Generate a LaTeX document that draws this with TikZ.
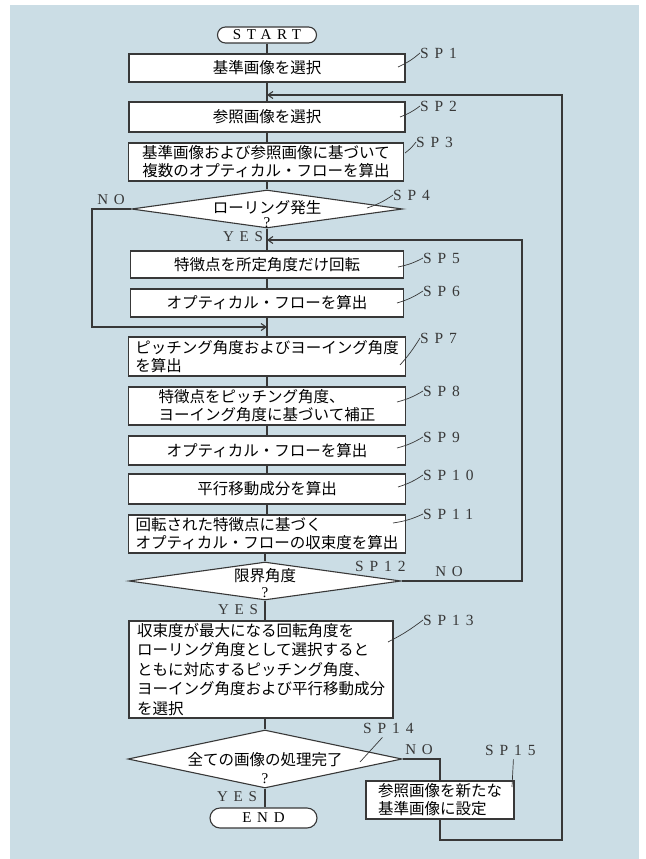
\documentclass[tikz,border=0pt]{standalone}
\usepackage{fontspec}
\usetikzlibrary{shapes.geometric,arrows.meta,calc}
\newfontfamily\jp{Noto Sans CJK JP}
\newfontfamily\lat[LetterSpace=38]{Liberation Serif}
\newfontfamily\qm{Liberation Serif}
\definecolor{bg}{HTML}{CBDDE5}
\definecolor{ink}{HTML}{383838}
\newcommand\dtext[4]{\makebox[0pt]{\smash{\raisebox{#2}{\makebox[0pt]{#1}}\raisebox{#4}{\makebox[0pt]{\qm\fontsize{15}{15}\selectfont #3}}}}}
\tikzset{
  box/.style={draw=ink, fill=white, line width=1.1pt, rectangle, inner sep=0pt,
    font=\jp\fontsize{15.5}{18}\selectfont, align=center},
  dia/.style={draw=ink, fill=white, line width=1.1pt, diamond, inner sep=0pt,
    font=\jp\fontsize{15.5}{18}\selectfont},
  term/.style={draw=ink, fill=white, line width=1.1pt, rectangle, rounded corners=8pt,
    inner sep=0pt, font=\lat\fontsize{15}{15}\selectfont},
  ln/.style={draw=ink, line width=1.1pt},
  arr/.style={-{Straight Barb[length=5pt,width=7pt]}},
  lab/.style={font=\lat\fontsize{15.5}{15.5}\selectfont, inner sep=0pt, text=ink, anchor=west},
  yn/.style={font=\lat\fontsize{15}{15}\selectfont, inner sep=0pt, text=ink},
  lead/.style={draw=ink, line width=0.7pt}
}
\begin{document}
\begin{tikzpicture}[x=1pt,y=1pt]
\useasboundingbox (0,0) rectangle (645,-859);
\fill[bg] (10,-5) rectangle (639,-859);

% nodes
\node[term, minimum width=99pt, minimum height=16pt] (start) at (267,-35) {START};
\node[box, minimum width=276pt, minimum height=28pt] (sp1) at (267,-68) {基準画像を選択};
\node[box, minimum width=276pt, minimum height=30pt] (sp2) at (267,-117) {参照画像を選択};
\node[box, minimum width=275pt, minimum height=38pt] (sp3) at (266,-162) {基準画像および参照画像に基づいて\\複数のオプティカル・フローを算出};
\node[dia, minimum width=271pt, minimum height=38pt] (sp4) at (267,-209) {\dtext{ローリング発生}{-4pt}{?}{-18pt}};
\node[box, minimum width=273pt, minimum height=27pt] (sp5) at (267,-264.5) {特徴点を所定角度だけ回転};
\node[box, minimum width=273pt, minimum height=28pt] (sp6) at (267,-303) {オプティカル・フローを算出};
\node[box, minimum width=277pt, minimum height=39pt, align=left] (sp7) at (267,-356.5) {ピッチング角度およびヨーイング角度\\を算出};
\node[box, minimum width=277pt, minimum height=38pt, align=left] (sp8) at (267,-406) {特徴点をピッチング角度、\\ヨーイング角度に基づいて補正};
\node[box, minimum width=277pt, minimum height=29pt] (sp9) at (267,-450.5) {オプティカル・フローを算出};
\node[box, minimum width=277pt, minimum height=30pt] (sp10) at (267,-489) {平行移動成分を算出};
\node[box, minimum width=277pt, minimum height=38pt, align=left] (sp11) at (267,-534) {回転された特徴点に基づく\\オプティカル・フローの収束度を算出};
\node[dia, minimum width=272pt, minimum height=38pt] (sp12) at (265,-581) {\dtext{限界角度}{0pt}{?}{-16pt}};
\node[box, minimum width=264pt, minimum height=97pt, align=left, font=\jp\fontsize{15.5}{19.5}\selectfont] (sp13) at (261,-669.5) {収束度が最大になる回転角度を\\ローリング角度として選択すると\\ともに対応するピッチング角度、\\ヨーイング角度および平行移動成分\\を選択};
\node[dia, minimum width=274pt, minimum height=58pt] (sp14) at (265,-759) {\dtext{全ての画像の処理完了}{-6pt}{?}{-24pt}};
\node[term, minimum width=107pt, minimum height=20pt, rounded corners=10pt] (end) at (263.5,-818) {END};
\node[box, minimum width=148pt, minimum height=38pt, align=left] (sp15) at (440,-800) {参照画像を新たな\\基準画像に設定};

% main flow
\draw[ln] (start.south) -- (start.south |- sp1.north);
\draw[ln] (sp1.south) -- (sp1.south |- sp2.north);
\draw[ln] (sp2.south) -- (sp2.south |- sp3.north);
\draw[ln] (sp3.south -| sp4.north) -- (sp4.north);
\draw[ln] (sp4.south) -- (sp4.south |- sp5.north);
\draw[ln] (sp5.south) -- (sp5.south |- sp6.north);
\draw[ln] (sp6.south) -- (sp6.south |- sp7.north);
\draw[ln] (sp7.south) -- (sp7.south |- sp8.north);
\draw[ln] (sp8.south) -- (sp8.south |- sp9.north);
\draw[ln] (sp9.south) -- (sp9.south |- sp10.north);
\draw[ln] (sp10.south) -- (sp10.south |- sp11.north);
\draw[ln] (sp11.south -| sp12.north) -- (sp12.north);
\draw[ln] (sp12.south) -- (sp12.south |- sp13.north);
\draw[ln] (sp14.north |- sp13.south) -- (sp14.north);
\draw[ln] (sp14.south) -- (sp14.south |- end.north);

% loops
\coordinate (r1) at (267,-95);
\coordinate (o1) at (562,-840);
\coordinate (o2) at (562,-95);
\draw[ln, arr] (sp15.south) |- (o1) -- (o2) -- (r1);
\draw[ln] (sp14.east) -| (sp15.north);

\coordinate (n1) at (92,-209);
\coordinate (r3) at (267,-327);
\draw[ln, arr] (sp4.west) -- (n1) |- (r3);

\coordinate (n2) at (522,-240);
\coordinate (r2) at (267,-240);
\draw[ln, arr] (sp12.east) -| (n2) -- (r2);

% yes/no labels
\node[yn] (no1) at (111,-200) {NO};
\node[yn] (yes1) at (243,-237) {YES};
\node[yn] (no2) at (449,-572) {NO};
\node[yn] (yes2) at (238,-610) {YES};
\node[yn] (no3) at (419,-750) {NO};
\node[yn] (yes3) at (237,-797) {YES};

% step labels
\node[lab] (s1) at (420,-53) {SP1};
\node[lab] (s2) at (420,-106) {SP2};
\node[lab] (s3) at (416,-142) {SP3};
\node[lab] (s4) at (393,-195) {SP4};
\node[lab] (s5) at (423,-258) {SP5};
\node[lab] (s6) at (423,-291) {SP6};
\node[lab] (s7) at (420,-338) {SP7};
\node[lab] (s8) at (423,-391) {SP8};
\node[lab] (s9) at (423,-437) {SP9};
\node[lab] (s10) at (423,-475) {SP10};
\node[lab] (s11) at (423,-514) {SP11};
\node[lab] (s12) at (355,-566) {SP12};
\node[lab] (s13) at (423,-620) {SP13};
\node[lab] (s14) at (363,-728) {SP14};
\node[lab] (s15) at (485,-750) {SP15};

% leaders
\coordinate (q1) at (398,-67);
\coordinate (q2) at (400,-117);
\coordinate (q3) at (405,-153);
\coordinate (q4) at (367,-208);
\coordinate (q5) at (398,-267);
\coordinate (q6) at (397,-303);
\coordinate (q7) at (400,-365);
\coordinate (q8) at (397,-402);
\coordinate (q9) at (397,-448);
\coordinate (q10) at (398,-487);
\coordinate (q11) at (393,-523);
\coordinate (q13) at (388,-642);
\coordinate (q14) at (360,-762);
\coordinate (q15) at (512,-787);
\draw[lead] (q1) to[bend right=8] (s1.west);
\draw[lead] (q2) to[bend right=8] (s2.west);
\draw[lead] (q3) to[bend right=8] (s3.west);
\draw[lead] (q4) to[bend right=8] (s4.west);
\draw[lead] (q5) to[bend right=8] (s5.west);
\draw[lead] (q6) to[bend right=8] (s6.west);
\draw[lead] (q7) to[bend right=5] (s7.west);
\draw[lead] (q8) to[bend right=8] (s8.west);
\draw[lead] (q9) to[bend right=8] (s9.west);
\draw[lead] (q10) to[bend right=8] (s10.west);
\draw[lead] (q11) to[bend right=8] (s11.west);
\draw[lead] (q13) to[bend right=5] (s13.west);
\draw[lead] (q14) -- ($(s14.south)+(-6,-4)$);
\draw[lead] (q15) -- ($(s15.south)+(3,-4)$);
\end{tikzpicture}
\end{document}
